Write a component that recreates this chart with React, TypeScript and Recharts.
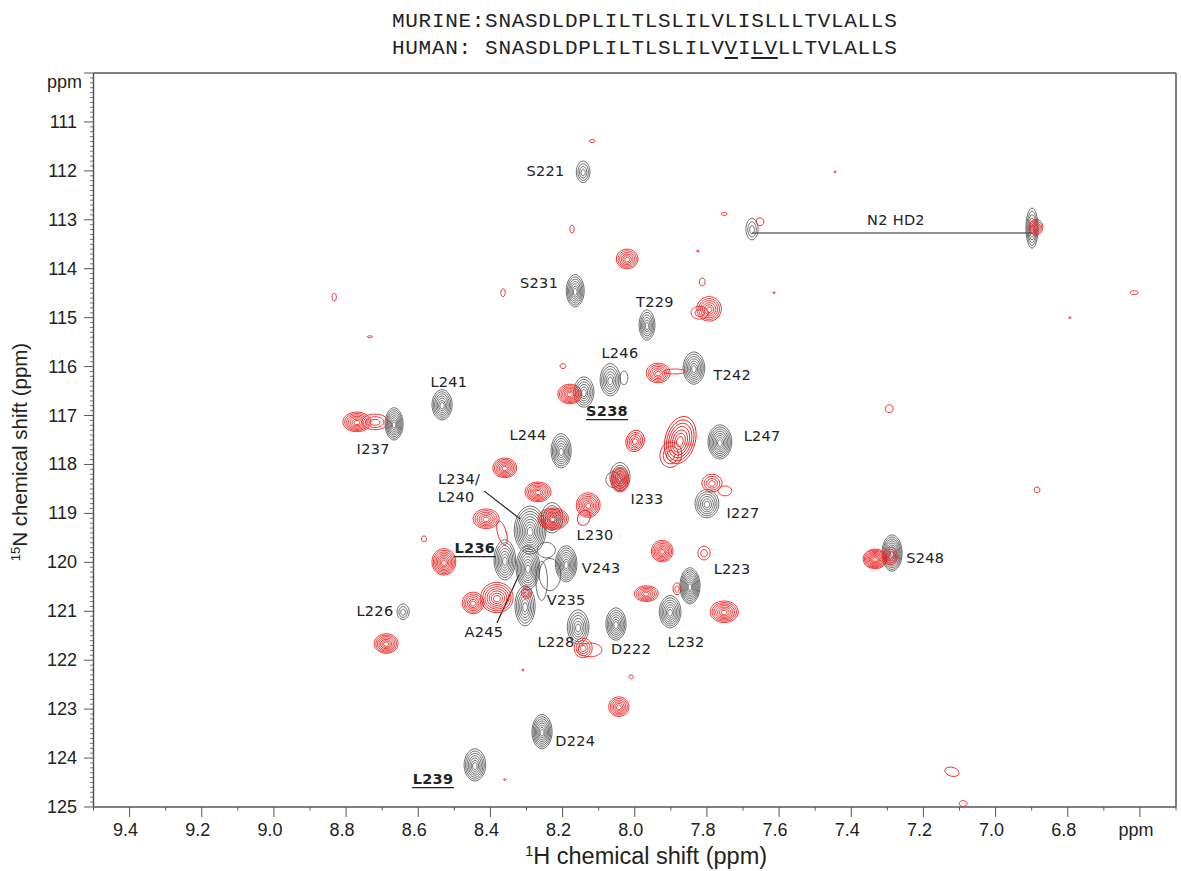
import React from 'react';
import { ScatterChart, Scatter, XAxis, YAxis, ReferenceLine } from 'recharts';

// [1H ppm, 15N ppm, half width 1H, half width 15N, contour levels, tilt deg]
type PeakRow = [number, number, number, number, number, number?];
type NoteRow = [string, number, number, boolean?];

const blackPeaks: PeakRow[] = [
  [8.143, 112.02, 0.019, 0.22, 4],
  [7.675, 113.19, 0.017, 0.22, 3],
  [6.899, 113.17, 0.017, 0.41, 6],
  [8.165, 114.45, 0.025, 0.33, 7],
  [7.966, 115.15, 0.022, 0.31, 6],
  [8.03, 116.23, 0.011, 0.14, 1],
  [8.068, 116.27, 0.028, 0.33, 6],
  [7.836, 116.03, 0.03, 0.33, 7],
  [8.141, 116.52, 0.028, 0.31, 6],
  [8.534, 116.78, 0.028, 0.31, 7],
  [8.667, 117.17, 0.025, 0.33, 8],
  [8.204, 117.72, 0.028, 0.35, 7],
  [7.764, 117.54, 0.033, 0.35, 8],
  [8.06, 118.31, 0.02, 0.16, 1],
  [8.041, 118.25, 0.028, 0.29, 5],
  [7.8, 118.8, 0.033, 0.29, 6],
  [8.235, 120.25, 0.03, 0.33, 1],
  [8.258, 120.38, 0.016, 0.4, 1],
  [8.245, 119.75, 0.025, 0.16, 1],
  [8.29, 119.34, 0.044, 0.49, 9],
  [8.229, 119.09, 0.03, 0.31, 5],
  [8.36, 119.95, 0.03, 0.41, 7],
  [8.296, 120.11, 0.033, 0.45, 8],
  [8.19, 120.03, 0.03, 0.37, 8],
  [8.304, 120.89, 0.028, 0.41, 6],
  [7.287, 119.81, 0.028, 0.37, 9],
  [7.847, 120.48, 0.028, 0.37, 9],
  [7.902, 121.01, 0.03, 0.33, 7],
  [8.642, 121.01, 0.017, 0.16, 3],
  [8.157, 121.32, 0.03, 0.35, 6],
  [8.052, 121.26, 0.028, 0.33, 7],
  [8.257, 123.46, 0.028, 0.35, 8],
  [8.443, 124.14, 0.03, 0.33, 7],
];

const redPeaks: PeakRow[] = [
  [8.021, 113.8, 0.03, 0.2, 6],
  [7.82, 114.9, 0.024, 0.13, 2],
  [7.794, 114.82, 0.034, 0.25, 6],
  [7.89, 116.1, 0.03, 0.05, 1],
  [7.935, 116.13, 0.033, 0.2, 6],
  [8.18, 116.56, 0.033, 0.2, 7],
  [7.999, 117.52, 0.025, 0.22, 5, 20],
  [7.9, 117.8, 0.03, 0.26, 3, 10],
  [7.874, 117.5, 0.042, 0.49, 7, 15],
  [8.36, 118.07, 0.033, 0.2, 7],
  [8.041, 118.31, 0.025, 0.25, 8],
  [7.75, 118.54, 0.019, 0.1, 1],
  [7.786, 118.38, 0.028, 0.18, 4],
  [8.268, 118.56, 0.036, 0.2, 7],
  [8.141, 119.09, 0.017, 0.16, 1, 25],
  [8.129, 118.83, 0.033, 0.25, 7],
  [8.226, 119.11, 0.042, 0.22, 8],
  [8.368, 119.4, 0.012, 0.25, 1, -15],
  [8.412, 119.11, 0.036, 0.2, 6],
  [8.529, 119.99, 0.033, 0.27, 8],
  [7.924, 119.77, 0.03, 0.22, 7],
  [7.808, 119.81, 0.017, 0.14, 2],
  [7.334, 119.93, 0.033, 0.2, 9],
  [7.292, 119.87, 0.019, 0.18, 4],
  [7.968, 120.64, 0.033, 0.16, 6],
  [7.883, 120.54, 0.011, 0.12, 2],
  [7.752, 121.01, 0.039, 0.22, 7],
  [8.382, 120.72, 0.045, 0.31, 7],
  [8.448, 120.83, 0.03, 0.22, 6],
  [8.3, 120.62, 0.014, 0.12, 3],
  [8.124, 121.79, 0.033, 0.14, 1],
  [8.143, 121.75, 0.025, 0.2, 4],
  [8.689, 121.66, 0.033, 0.2, 7],
  [8.044, 122.95, 0.028, 0.2, 6],
  [8.72, 117.13, 0.036, 0.16, 3],
  [8.77, 117.13, 0.039, 0.2, 7],
  [6.888, 113.15, 0.019, 0.16, 5],
  [7.653, 113.04, 0.011, 0.08, 1],
];

const noisePeaks: PeakRow[] = [
  [8.118, 111.39, 0.008, 0.03, 1],
  [8.174, 113.19, 0.006, 0.08, 1],
  [7.752, 112.88, 0.008, 0.03, 1],
  [7.825, 113.64, 0.004, 0.02, 1],
  [7.813, 114.27, 0.008, 0.08, 1],
  [8.365, 114.49, 0.006, 0.08, 1],
  [8.833, 114.58, 0.006, 0.08, 1],
  [8.734, 115.39, 0.007, 0.02, 1],
  [8.199, 115.99, 0.008, 0.05, 1],
  [7.295, 116.86, 0.011, 0.08, 1],
  [6.885, 118.52, 0.008, 0.06, 1],
  [6.616, 114.49, 0.011, 0.04, 1],
  [6.794, 115.0, 0.003, 0.02, 1],
  [7.614, 114.49, 0.003, 0.02, 1],
  [7.445, 112.02, 0.003, 0.02, 1],
  [8.584, 119.52, 0.007, 0.06, 1],
  [8.31, 122.2, 0.003, 0.02, 1],
  [8.01, 122.34, 0.006, 0.04, 1],
  [8.36, 124.44, 0.003, 0.02, 1],
  [7.121, 124.28, 0.02, 0.09, 1, 15],
  [7.09, 124.93, 0.011, 0.06, 1],
];

const peakNotes: NoteRow[] = [
  ['S221', 8.247, 112.0],
  ['N2 HD2', 7.276, 113.0],
  ['S231', 8.265, 114.29],
  ['T229', 7.944, 114.68],
  ['L246', 8.041, 115.72],
  ['T242', 7.73, 116.17],
  ['S238', 8.077, 116.9, true],
  ['L241', 8.515, 116.31],
  ['I237', 8.725, 117.68],
  ['L244', 8.296, 117.4],
  ['L247', 7.647, 117.42],
  ['I233', 7.966, 118.7],
  ['L234/', 8.487, 118.29],
  ['L240', 8.495, 118.66],
  ['I227', 7.7, 118.99],
  ['L230', 8.11, 119.44],
  ['L236', 8.443, 119.7, true],
  ['V243', 8.093, 120.11],
  ['L223', 7.73, 120.13],
  ['S248', 7.195, 119.91],
  ['V235', 8.19, 120.77],
  ['L226', 8.72, 120.99],
  ['A245', 8.418, 121.42],
  ['L228', 8.218, 121.62],
  ['D222', 8.01, 121.77],
  ['L232', 7.858, 121.62],
  ['D224', 8.165, 123.65],
  ['L239', 8.559, 124.42, true],
];

const xMajor = [9.4, 9.2, 9.0, 8.8, 8.6, 8.4, 8.2, 8.0, 7.8, 7.6, 7.4, 7.2, 7.0, 6.8, 6.6];
const xLabels = ['9.4', '9.2', '9.0', '8.8', '8.6', '8.4', '8.2', '8.0', '7.8', '7.6', '7.4', '7.2', '7.0', '6.8', 'ppm'];
const yMajor = [110, 111, 112, 113, 114, 115, 116, 117, 118, 119, 120, 121, 122, 123, 124, 125];
const yLabels = ['ppm', '111', '112', '113', '114', '115', '116', '117', '118', '119', '120', '121', '122', '123', '124', '125'];

const xTicks = Array.from({ length: 31 }, (_, i) => (65 + i) / 10);
const yTicks = Array.from({ length: 151 }, (_, i) => (1100 + i) / 10);

const W = 1181;
const H = 871;
const plot = { left: 93.5, top: 73, right: 1176, bottom: 807 };
const xRange = [6.5, 9.5];
const yRange = [110, 125];
const pxPerH = (plot.right - plot.left) / (xRange[1] - xRange[0]);
const pxPerN = (plot.bottom - plot.top) / (yRange[1] - yRange[0]);

const AXIS = '#555';
const BLACK = '#4a4a4a';
const RED = '#ee2020';
const TEXT = '#222';
const TICK_FONT = '"Liberation Sans", Arial, sans-serif';
const NOTE_FONT = '"DejaVu Sans", sans-serif';

const toPeaks = (rows: PeakRow[]) =>
  rows.map(([h, n, dh, dn, levels, tilt]) => ({ h, n, dh, dn, levels, tilt: tilt ?? 0 }));
const toNotes = (rows: NoteRow[]) =>
  rows.map(([text, h, n, underlined]) => ({ text, h, n, underlined: !!underlined }));

function contourPath(cx: number, cy: number, rx: number, ry: number, pointy: number) {
  const kx = pointy;
  const ky = 0.56;
  return [
    `M${cx} ${cy - ry}`,
    `C${cx + rx * kx} ${cy - ry} ${cx + rx} ${cy - ry * ky} ${cx + rx} ${cy}`,
    `C${cx + rx} ${cy + ry * ky} ${cx + rx * kx} ${cy + ry} ${cx} ${cy + ry}`,
    `C${cx - rx * kx} ${cy + ry} ${cx - rx} ${cy + ry * ky} ${cx - rx} ${cy}`,
    `C${cx - rx} ${cy - ry * ky} ${cx - rx * kx} ${cy - ry} ${cx} ${cy - ry}Z`,
  ].join('');
}

const contourShape = (color: string, width: number, pointy: number) => (props: any) => {
  const { cx, cy, payload } = props;
  const { dh, dn, levels, tilt } = payload;
  const rx = dh * pxPerH;
  const ry = dn * pxPerN;
  const rings = [];
  for (let k = 0; k < levels; k++) {
    const s = 1 - (k / levels) * 0.92;
    const shiftY = (k / levels) * ry * 0.08;
    rings.push(
      <path key={k} d={contourPath(cx, cy + shiftY, rx * s, ry * s, pointy)} fill="none" stroke={color} strokeWidth={width} />
    );
  }
  return <g transform={tilt ? `rotate(${tilt} ${cx} ${cy})` : undefined}>{rings}</g>;
};

const noteShape = (props: any) => {
  const { cx, cy, payload } = props;
  return (
    <g>
      <text
        x={cx}
        y={cy}
        textAnchor="middle"
        dominantBaseline="central"
        fontFamily={NOTE_FONT}
        fontSize={14.5}
        fontWeight={payload.underlined ? 700 : 400}
        letterSpacing={0.3}
        fill={TEXT}
      >
        {payload.text}
      </text>
      {payload.underlined && <line x1={cx - 21} x2={cx + 21} y1={cy + 9} y2={cy + 9} stroke={TEXT} strokeWidth={1.3} />}
    </g>
  );
};

const XTick = (props: any) => {
  const { x, y, payload } = props;
  const i = xMajor.findIndex((v) => Math.abs(v - payload.value) < 0.001);
  const major = i >= 0;
  return (
    <g>
      <line x1={x} x2={x} y1={y} y2={y + (major ? 10 : 3.5)} stroke={AXIS} strokeWidth={1} />
      {major && (
        <text x={x - 4} y={y + 29} textAnchor="middle" fontFamily={TICK_FONT} fontSize={18} fill={TEXT}>
          {xLabels[i]}
        </text>
      )}
    </g>
  );
};

const YTick = (props: any) => {
  const { x, y, payload } = props;
  const i = yMajor.findIndex((v) => Math.abs(v - payload.value) < 0.001);
  const major = i >= 0;
  return (
    <g>
      <line x1={x} x2={x - (major ? 9.5 : 3.5)} y1={y} y2={y} stroke={AXIS} strokeWidth={major ? 1 : 0.8} />
      {major && (
        <text
          x={i === 0 ? 82 : 77}
          y={i === 0 ? y + 9 : y}
          textAnchor="end"
          dominantBaseline="central"
          fontFamily={TICK_FONT}
          fontSize={18}
          fill={TEXT}
        >
          {yLabels[i]}
        </text>
      )}
    </g>
  );
};

const titleStyle: React.CSSProperties = {
  position: 'absolute',
  left: 392,
  fontFamily: '"Liberation Mono", monospace',
  fontSize: 21,
  letterSpacing: 0.7,
  whiteSpace: 'pre',
  color: '#222',
  lineHeight: '22px',
};

const mark: React.CSSProperties = { textDecoration: 'underline', textUnderlineOffset: 3 };

export default function App() {
  return (
    <div style={{ position: 'absolute', left: 0, top: 0, width: W, height: H, background: '#fff' }}>
      <div style={{ ...titleStyle, top: 11 }}>MURINE:SNASDLDPLILTLSLILVLISLLLTVLALLS</div>
      <div style={{ ...titleStyle, top: 38 }}>
        HUMAN: SNASDLDPLILTLSLILV<span style={mark}>V</span>I<span style={mark}>LV</span>LLTVLALLS
      </div>
      <ScatterChart
        width={W}
        height={H}
        margin={{ top: plot.top, right: W - plot.right, bottom: 0, left: 0 }}
        style={{ position: 'absolute', left: 0, top: 0 }}
      >
        <XAxis
          xAxisId={0}
          type="number"
          dataKey="h"
          domain={xRange}
          ticks={xTicks}
          interval={0}
          reversed
          allowDataOverflow
          height={H - plot.bottom}
          tickSize={0}
          tickMargin={0}
          tickLine={false}
          axisLine={{ stroke: AXIS, strokeWidth: 1.5 }}
          tick={<XTick />}
        />
        <YAxis
          yAxisId={0}
          type="number"
          dataKey="n"
          domain={yRange}
          ticks={yTicks}
          interval={0}
          reversed
          allowDataOverflow
          width={plot.left}
          tickSize={0}
          tickMargin={0}
          tickLine={false}
          axisLine={{ stroke: AXIS, strokeWidth: 1.5 }}
          tick={<YTick />}
        />
        <ReferenceLine y={110} stroke={AXIS} strokeWidth={1.5} />
        <ReferenceLine x={6.5} stroke={AXIS} strokeWidth={1.5} />
        <Scatter data={toPeaks(blackPeaks)} isAnimationActive={false} shape={contourShape(BLACK, 0.8, 0.5)} />
        <Scatter data={toPeaks(redPeaks)} isAnimationActive={false} shape={contourShape(RED, 0.9, 0.56)} />
        <Scatter data={toPeaks(noisePeaks)} isAnimationActive={false} shape={contourShape(RED, 0.9, 0.56)} />
        <ReferenceLine segment={[{ x: 7.675, y: 113.27 }, { x: 6.899, y: 113.27 }]} stroke="#222" strokeWidth={1.2} />
        <ReferenceLine segment={[{ x: 8.418, y: 118.54 }, { x: 8.318, y: 119.11 }]} stroke="#222" strokeWidth={1.2} />
        <ReferenceLine segment={[{ x: 8.382, y: 121.24 }, { x: 8.321, y: 120.26 }]} stroke="#222" strokeWidth={1.2} />
        <Scatter data={toNotes(peakNotes)} isAnimationActive={false} shape={noteShape} />
        <text x={646} y={864} textAnchor="middle" fontFamily={TICK_FONT} fontSize={23.5} fill={TEXT}>
          <tspan fontSize={15} dy={-8}>1</tspan>
          <tspan dy={8}>H chemical shift (ppm)</tspan>
        </text>
        <text transform="translate(27 452) rotate(-90)" textAnchor="middle" fontFamily={TICK_FONT} fontSize={20.5} fill={TEXT}>
          <tspan fontSize={13} dy={-7}>15</tspan>
          <tspan dy={7}>N chemical shift (ppm)</tspan>
        </text>
      </ScatterChart>
    </div>
  );
}
